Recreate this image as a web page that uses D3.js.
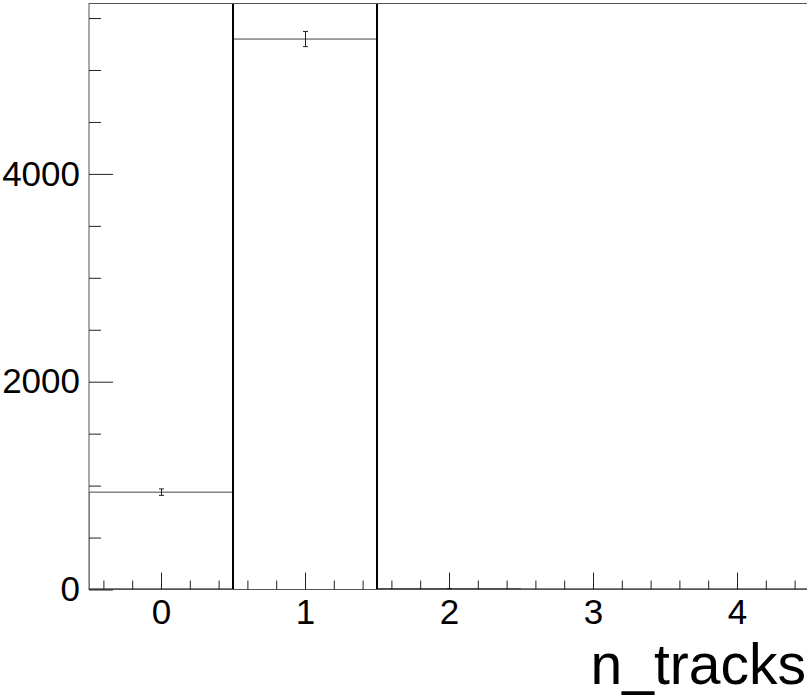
<!DOCTYPE html>
<html>
<head>
<meta charset="utf-8">
<script src="https://cdn.jsdelivr.net/npm/d3@7"></script>
<style>
  body { margin: 0; background: #fff; }
  svg { display: block; font-family: "Liberation Sans", Arial, sans-serif; }
</style>
</head>
<body>
<div id="chart"></div>
<script>
// histogram contents
var binCenters = [0, 1, 2, 3, 4];
var counts = [937, 5298, 5, 0, 0];
var countErrors = [31, 73, 2, 0, 0];
// second (off-scale) histogram drawn with thick lines
var counts2 = [0, 12000, 0, 0, 0];
var yMajorTicks = [0, 2000, 4000];
var xTitle = "n_tracks";

var width = 807, height = 696;
var frame = {left: 89, right: 809, top: 3.5, bottom: 589.5};

var svg = d3.select("#chart").append("svg")
  .attr("width", width)
  .attr("height", height);

var x = d3.scaleLinear().domain([-0.5, 4.5]).range([frame.left, frame.right]);
var y = d3.scaleLinear().domain([0, 5640]).range([frame.bottom, frame.top]);

svg.append("clipPath").attr("id", "frameClip")
  .append("rect")
  .attr("x", frame.left).attr("y", frame.top)
  .attr("width", frame.right - frame.left)
  .attr("height", frame.bottom - frame.top);

// step path for a histogram
function stepLine(values) {
  var pts = [[x(binCenters[0] - 0.5), y(0)]];
  values.forEach(function(v, i){
    pts.push([x(binCenters[i] - 0.5), y(v)]);
    pts.push([x(binCenters[i] + 0.5), y(v)]);
  });
  pts.push([x(binCenters[binCenters.length - 1] + 0.5), y(0)]);
  return d3.line()(pts);
}

var plot = svg.append("g").attr("clip-path", "url(#frameClip)");

plot.append("path")
  .attr("d", stepLine(counts))
  .attr("fill", "none")
  .attr("stroke", "#444")
  .attr("stroke-width", 1);

// error bars
var errs = plot.selectAll(".err")
  .data(binCenters.map(function(c, i){ return {c: c, v: counts[i], e: countErrors[i]}; })
    .filter(function(d){ return d.v > 0; }))
  .enter().append("g").attr("class", "err")
  .attr("stroke", "#222").attr("stroke-width", 1);
errs.append("line")
  .attr("x1", function(d){ return Math.round(x(d.c)) + 0.5; })
  .attr("x2", function(d){ return Math.round(x(d.c)) + 0.5; })
  .attr("y1", function(d){ return y(d.v - d.e); })
  .attr("y2", function(d){ return y(d.v + d.e); });
errs.selectAll(".cap")
  .data(function(d){ return [d.v - d.e, d.v + d.e].map(function(v){ return {c: d.c, v: v}; }); })
  .enter().append("line")
  .attr("x1", function(d){ return Math.round(x(d.c)) - 2; })
  .attr("x2", function(d){ return Math.round(x(d.c)) + 3; })
  .attr("y1", function(d){ return y(d.v); })
  .attr("y2", function(d){ return y(d.v); });

plot.append("path")
  .attr("d", stepLine(counts2))
  .attr("fill", "none")
  .attr("stroke", "#000")
  .attr("stroke-width", 2);

// frame
svg.append("rect")
  .attr("x", frame.left).attr("y", frame.top)
  .attr("width", frame.right - frame.left)
  .attr("height", frame.bottom - frame.top)
  .attr("fill", "none")
  .attr("stroke", "#555")
  .attr("stroke-width", 1);

// y axis: major + minor ticks pointing into the frame
var yMinor = d3.range(500, 5600, 500).filter(function(v){ return v % 2000 != 0; });
svg.append("g")
  .attr("transform", "translate(" + frame.left + ",0)")
  .call(d3.axisLeft(y).tickValues(yMajorTicks).tickSizeInner(-24).tickSizeOuter(0).tickPadding(9)
    .tickFormat(d3.format("d")))
  .call(function(g){ g.select(".domain").remove(); })
  .call(function(g){
    g.selectAll("line").attr("stroke", "#222");
    g.selectAll("text").attr("font-size", 35).attr("fill", "#000")
      .attr("font-family", "Liberation Sans, Arial, sans-serif");
  });
svg.append("g")
  .attr("transform", "translate(" + frame.left + ",0)")
  .call(d3.axisLeft(y).tickValues(yMinor).tickSizeInner(-12).tickSizeOuter(0).tickFormat(""))
  .call(function(g){ g.select(".domain").remove(); g.selectAll("line").attr("stroke", "#222"); });

// x axis
var xMinor = d3.range(-4, 45, 2).map(function(v){ return v / 10; })
  .filter(function(v){ return Math.abs(v - Math.round(v)) > 1e-6; });
svg.append("g")
  .attr("transform", "translate(0," + frame.bottom + ")")
  .call(d3.axisBottom(x).tickValues(binCenters).tickSizeInner(-17).tickSizeOuter(0).tickPadding(10)
    .tickFormat(d3.format("d")))
  .call(function(g){ g.select(".domain").remove(); })
  .call(function(g){
    g.selectAll("line").attr("stroke", "#222");
    g.selectAll("text").attr("font-size", 35).attr("fill", "#000")
      .attr("font-family", "Liberation Sans, Arial, sans-serif");
  });
svg.append("g")
  .attr("transform", "translate(0," + frame.bottom + ")")
  .call(d3.axisBottom(x).tickValues(xMinor).tickSizeInner(-9).tickSizeOuter(0).tickFormat(""))
  .call(function(g){ g.select(".domain").remove(); g.selectAll("line").attr("stroke", "#222"); });

// axis title, right aligned to the end of the axis
svg.append("text")
  .attr("x", frame.right - 3)
  .attr("y", 684)
  .attr("text-anchor", "end")
  .attr("font-size", 57)
  .attr("fill", "#000")
  .text(xTitle);
</script>
</body>
</html>
